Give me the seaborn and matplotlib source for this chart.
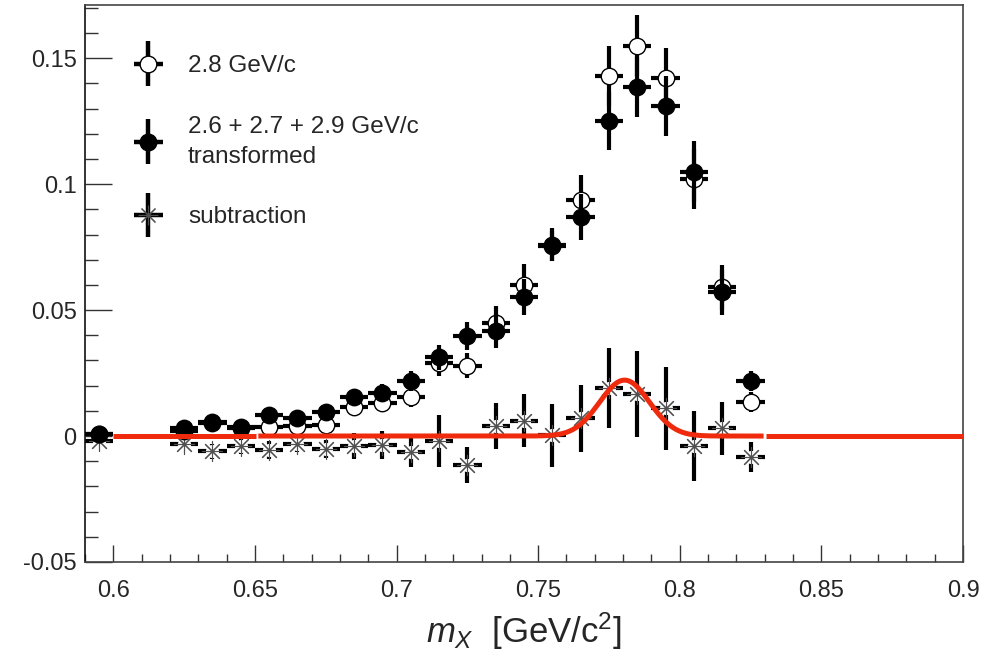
import numpy as np
import pandas as pd
import matplotlib
matplotlib.use('Agg')
import matplotlib.pyplot as plt
import seaborn as sns
from matplotlib.ticker import MultipleLocator, FormatStrFormatter
from matplotlib.container import ErrorbarContainer
from matplotlib.legend_handler import HandlerErrorbar

# bin centres (GeV/c^2), bin half width
mass = [0.595, 0.625, 0.635, 0.645, 0.655, 0.665, 0.675, 0.685, 0.695, 0.705, 0.715,
        0.725, 0.735, 0.745, 0.755, 0.765, 0.775, 0.785, 0.795, 0.805, 0.815, 0.825]
half_bin = 0.005

# 2.8 GeV/c (open circles)
p28_y = [0.001, 0.002, 0.005, 0.003, 0.0036, 0.004, 0.0044, 0.0115, 0.013, 0.0155, 0.029,
         0.028, 0.045, 0.060, 0.0755, 0.0937, 0.143, 0.155, 0.142, 0.102, 0.059, 0.0135]
p28_err = [0.002, 0.002, 0.002, 0.002, 0.0025, 0.0025, 0.003, 0.003, 0.003, 0.004, 0.005,
           0.005, 0.0067, 0.0083, 0.006, 0.010, 0.012, 0.012, 0.012, 0.012, 0.009, 0.004]

# 2.6 + 2.7 + 2.9 GeV/c transformed (filled circles)
trans_y = [0.001, 0.003, 0.0056, 0.0036, 0.0083, 0.007, 0.0095, 0.0155, 0.017, 0.022, 0.0313,
           0.0397, 0.0417, 0.0552, 0.076, 0.087, 0.125, 0.1385, 0.131, 0.105, 0.057, 0.022]
trans_err = [0.002, 0.002, 0.002, 0.002, 0.0025, 0.0025, 0.003, 0.003, 0.0035, 0.004, 0.005,
             0.0055, 0.0067, 0.007, 0.0067, 0.009, 0.0115, 0.012, 0.012, 0.012, 0.009, 0.004]

# subtraction (stars)
sub_y = [-0.002, -0.003, -0.006, -0.004, -0.0056, -0.003, -0.005, -0.004, -0.0036, -0.0065, -0.002,
         -0.0115, 0.004, 0.006, 0.0004, 0.007, 0.019, 0.0167, 0.011, -0.004, 0.003, -0.0083]
sub_err = [0.001, 0.0025, 0.003, 0.003, 0.0036, 0.0033, 0.0036, 0.0053, 0.0055, 0.0056, 0.0103,
           0.007, 0.0093, 0.0105, 0.0125, 0.0134, 0.016, 0.017, 0.0165, 0.014, 0.0106, 0.006]

# gaussian fit to the subtraction
fit_amp = 0.0222
fit_mean = 0.7805
fit_sigma = 0.0088
fit_ranges = [(0.600, 0.6505), (0.6512, 0.8296), (0.8306, 0.900)]

labels = ['2.8 GeV/c', '2.6 + 2.7 + 2.9 GeV/c\ntransformed', 'subtraction']

sns.set_style('white')
plt.rcParams['font.family'] = ['Liberation Sans', 'DejaVu Sans']
plt.rcParams['axes.unicode_minus'] = False
plt.rcParams['mathtext.fontset'] = 'custom'
plt.rcParams['mathtext.rm'] = 'Liberation Sans'
plt.rcParams['mathtext.it'] = 'Liberation Sans:italic'

df = pd.DataFrame({'mass': mass, 'p28': p28_y, 'p28_err': p28_err,
                   'trans': trans_y, 'trans_err': trans_err,
                   'sub': sub_y, 'sub_err': sub_err})

fig = plt.figure(figsize=(9.92, 6.56), dpi=100)
ax = fig.add_axes([85 / 992, 1 - 562 / 656, 878 / 992, 557 / 656])

bar_kw = dict(fmt='none', ecolor='black', elinewidth=3.0, capsize=0)

# subtraction: bars, white gap, star
ax.errorbar(df['mass'], df['sub'], yerr=df['sub_err'], xerr=half_bin, zorder=2, **bar_kw)
sns.scatterplot(data=df, x='mass', y='sub', ax=ax, marker='o', color='white',
                s=90, linewidth=0, zorder=2.5, legend=False)
sns.scatterplot(data=df, x='mass', y='sub', ax=ax, marker=(8, 2, 0), color='#505050',
                s=210, linewidth=0.8, zorder=2.6, legend=False)

# 2.8 GeV/c
ax.errorbar(df['mass'], df['p28'], yerr=df['p28_err'], xerr=half_bin, zorder=3, **bar_kw)
sns.scatterplot(data=df, x='mass', y='p28', ax=ax, marker='o', facecolor='white',
                edgecolor='black', s=140, linewidth=1.0, zorder=3.5, legend=False)

# transformed
ax.errorbar(df['mass'], df['trans'], yerr=df['trans_err'], xerr=half_bin, zorder=4, **bar_kw)
sns.scatterplot(data=df, x='mass', y='trans', ax=ax, marker='o', color='black',
                edgecolor='black', s=140, linewidth=1.0, zorder=4.5, legend=False)

# fit curve
for lo, hi in fit_ranges:
    xs = np.linspace(lo, hi, 300)
    ys = fit_amp * np.exp(-0.5 * ((xs - fit_mean) / fit_sigma) ** 2)
    sns.lineplot(x=xs, y=ys, ax=ax, color='#f02a0c', linewidth=3.6, zorder=6,
                 solid_capstyle='butt')

ax.set_xlim(0.59, 0.9)
ax.set_ylim(-0.05, 0.1711)

ax.xaxis.set_major_locator(MultipleLocator(0.05))
ax.xaxis.set_minor_locator(MultipleLocator(0.01))
ax.yaxis.set_major_locator(MultipleLocator(0.05))
ax.yaxis.set_minor_locator(MultipleLocator(0.01))
ax.xaxis.set_major_formatter(FormatStrFormatter('%g'))
ax.yaxis.set_major_formatter(FormatStrFormatter('%g'))
ax.tick_params(axis='x', which='major', direction='in', length=12, width=1, pad=13,
               labelsize=17, bottom=True, top=False, color='#333333')
ax.tick_params(axis='x', which='minor', direction='in', length=6, width=1,
               bottom=True, top=False, color='#333333')
ax.tick_params(axis='y', which='major', direction='in', length=19.5, width=1, pad=6,
               labelsize=17, left=True, right=False, color='#333333')
ax.tick_params(axis='y', which='minor', direction='in', length=9.5, width=1,
               left=True, right=False, color='#333333')
for s in ax.spines.values():
    s.set_visible(True)
    s.set_color('#444444')
    s.set_linewidth(1.2)
ax.spines['left'].set_color('#111111')

ax.set_xlabel(r'$m_X$  [GeV/c$^2$]', fontsize=25, labelpad=6)
ax.set_ylabel('')

# legend proxies
h_open = ax.errorbar([np.nan], [np.nan], xerr=[1], yerr=[1], fmt='o', mfc='white',
                     mec='black', ms=12, mew=1.0, ecolor='black', elinewidth=3.2, capsize=0)
h_full = ax.errorbar([np.nan], [np.nan], xerr=[1], yerr=[1], fmt='o', mfc='black',
                     mec='black', ms=12, mew=1.0, ecolor='black', elinewidth=3.2, capsize=0)
h_star = ax.errorbar([np.nan], [np.nan], xerr=[1], yerr=[1], fmt=' ', marker=(8, 2, 0),
                     mec='#505050', mfc='#505050', ms=14, mew=0.8, ecolor='black',
                     elinewidth=3.2, capsize=0)
leg = ax.legend([h_open, h_full, h_star], labels, loc='upper left',
                bbox_to_anchor=((126 - 85) / 878, 1 - (55 - 5) / 557),
                frameon=False, fontsize=17.5, borderpad=0, borderaxespad=0,
                handlelength=1.85, handletextpad=0.7, labelspacing=1.6,
                handler_map={ErrorbarContainer: HandlerErrorbar(xerr_size=0.58, yerr_size=0.92)})
for t in leg.get_texts():
    t.set_linespacing(1.45)

fig.savefig('out.png', dpi=100)
